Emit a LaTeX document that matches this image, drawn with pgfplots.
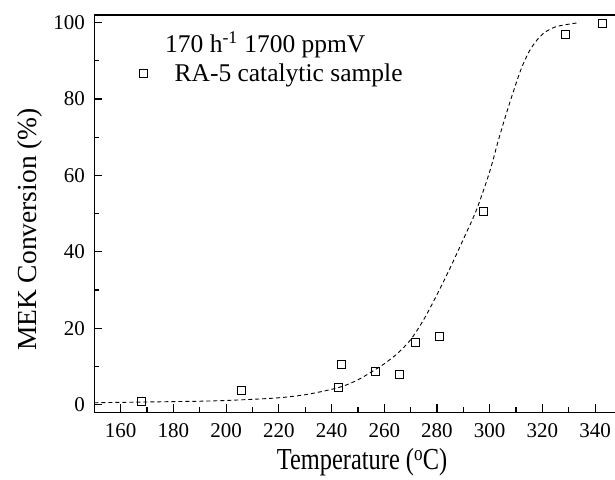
\documentclass[border=0pt]{standalone}
\usepackage{fontspec}
\setmainfont{Liberation Serif}
\usepackage{graphicx}
\usepackage{pgfplots}
\pgfplotsset{compat=1.18}
\begin{document}
\begin{tikzpicture}
\begin{axis}[
  name=ax,
  scale only axis,
  width=527.2pt, height=397.3pt,
  xmin=150, xmax=350, ymin=-2, ymax=102,
  xtick={160,180,...,340}, ytick={0,20,...,100},
  minor x tick num=1, minor y tick num=1,
  tick align=inside, xtick pos=bottom, ytick pos=left,
  major tick length=8pt, minor tick length=5pt,
  every tick/.style={black, line width=1.2pt},
  axis line style={line width=1.4pt},
  /pgf/number format/assume math mode=true,
  tick label style={font=\fontsize{21}{23}\selectfont},
  yticklabel style={anchor=east, inner sep=0pt, xshift=-9.3pt},
  xticklabel style={anchor=north, inner sep=0pt, yshift=-10.7pt},
  xlabel={\scalebox{0.8}[1]{\fontsize{30.5}{32}\selectfont Temperature (\textsuperscript{o}C)}},
  ylabel={\fontsize{27.5}{29}\selectfont MEK Conversion (\%)},
  label style={inner sep=0pt},
  xlabel style={at={(axis description cs:0.508,-0.145)}, anchor=base},
  ylabel style={at={(axis description cs:-0.1087,0.46)}, anchor=base, rotate=0},
  legend style={draw=none, fill=none, at={(axis description cs:0.0734,0.854)}, anchor=west,
    font=\fontsize{25.5}{27}\selectfont, inner sep=0pt},
  legend image code/.code={\path (-10pt,0pt) (29pt,0pt); \draw[#1] plot coordinates {(0pt,0pt)};},
]
\addplot[black, dashed, line width=0.9pt, dash pattern=on 4pt off 3pt, smooth, forget plot] coordinates {
(150,0.5) (160,0.6) (170,0.7) (180,0.8) (190,0.9) (200,1.1) (210,1.4) (220,1.8)
(230,2.6) (240,4.0) (245,5.0) (250,6.5) (255,8.5) (260,10.7) (265,13.4) (270,17.0)
(275,22.3) (280,28.8) (285,35.8) (290,43.3) (295,51) (300,61) (303,68.5) (306,75.5) (309,82)
(312,88) (315,92.5) (318,95.5) (321,97.5) (325,98.9) (330,99.6) (334,100)
};
\addplot[only marks, mark=square, mark size=4pt, black, mark options={line width=0.9pt}] coordinates {
(167.7,0.8) (205.8,3.6) (242.8,4.6) (243.8,10.4) (256.7,8.8) (265.8,8.0)
(271.8,16.2) (280.9,17.8) (297.8,50.6) (328.7,96.9) (342.7,99.8)
};
\addlegendentry{RA-5 catalytic sample}
\node[anchor=west, inner sep=0pt, font=\fontsize{25.5}{27}\selectfont] at (rel axis cs:0.134,0.9245) {170 h\textsuperscript{-1} 1700 ppmV};
\node[anchor=base, inner sep=0pt, font=\fontsize{20.5}{22}\selectfont] at (rel axis cs:-0.12,-0.140) {(C)};
\end{axis}
\pgfresetboundingbox
\useasboundingbox (-94.3pt,-66.7pt) rectangle (520.7pt,412.3pt);
\end{tikzpicture}
\end{document}
